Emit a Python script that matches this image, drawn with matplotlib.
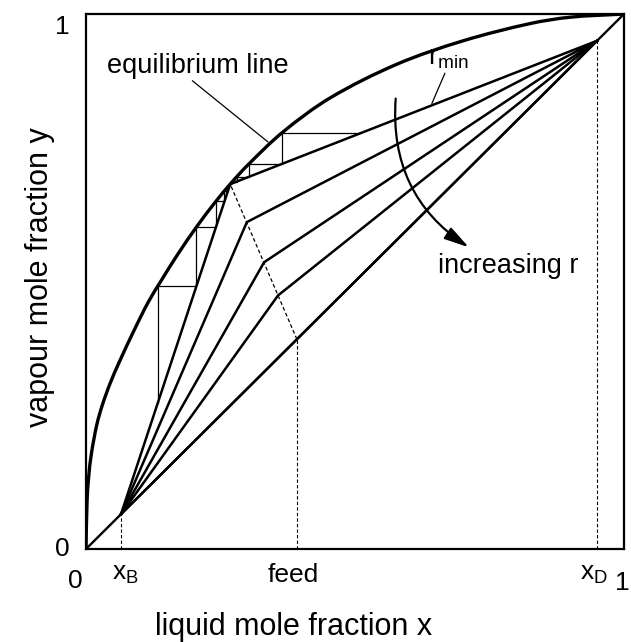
import numpy as np
import matplotlib
matplotlib.use('Agg')
import matplotlib.pyplot as plt
from matplotlib.patches import FancyArrowPatch, PathPatch
from matplotlib.path import Path

plt.rcParams['font.family'] = ['Liberation Sans', 'DejaVu Sans']
plt.rcParams['mathtext.fontset'] = 'custom'
plt.rcParams['mathtext.rm'] = 'Liberation Sans'
plt.rcParams['mathtext.it'] = 'Liberation Sans:italic'

# ---- data ----
eq_x = [0, 0.002, 0.005, 0.01, 0.02, 0.03, 0.045, 0.063, 0.09, 0.116, 0.14, 0.17,
        0.2076, 0.2416, 0.268, 0.30, 0.3655, 0.4535, 0.5775, 0.7013, 0.825, 0.90, 1.0]
eq_y = [0, 0.09, 0.135, 0.178, 0.232, 0.268, 0.31, 0.352, 0.41, 0.462, 0.502, 0.55,
        0.605, 0.65, 0.682, 0.717, 0.779, 0.843, 0.906, 0.950, 0.982, 0.994, 1.0]

x_B = 0.065
x_F = 0.392
x_D = 0.95

# kinks of the operating lines on the feed (q) line, from r_min to total reflux
kink_x = [0.268, 0.299, 0.331, 0.357, 0.392]
kink_y = [0.682, 0.611, 0.536, 0.474, 0.392]

upper_start_y = 0.777   # first step level on the r_min rectifying line
lower_start_x = 0.1333  # first step on the r_min stripping line
n_steps = 12

x_tick_labels = ['0', r'x$_\mathrm{B}$', 'feed', r'x$_\mathrm{D}$', '1']
y_tick_labels = ['0', '1']

# ---- figure ----
fig = plt.figure(figsize=(6.31, 6.42), dpi=100)
ax = fig.add_axes([86 / 631, 1 - 549 / 642, 538 / 631, 535 / 642])
ax.set_xlim(0, 1)
ax.set_ylim(0, 1)
ax.set_xticks([])
ax.set_yticks([])
for s in ax.spines.values():
    s.set_linewidth(1.6)

k = 'black'
# diagonal
ax.plot([0, 1], [0, 1], color=k, lw=1.7)


# equilibrium curve drawn as a smooth Bezier path through the read points
def smooth_path(xs, ys):
    P = np.column_stack([xs, ys]).astype(float)
    n = len(P)
    d = np.sqrt(((P[1:] - P[:-1]) ** 2).sum(axis=1))
    t = np.concatenate([[0], np.cumsum(d)])
    m = np.zeros_like(P)
    m[0] = (P[1] - P[0]) / (t[1] - t[0])
    m[-1] = (P[-1] - P[-2]) / (t[-1] - t[-2])
    for i in range(1, n - 1):
        m[i] = (P[i + 1] - P[i - 1]) / (t[i + 1] - t[i - 1])
    verts = [P[0]]
    codes = [Path.MOVETO]
    for i in range(n - 1):
        h = t[i + 1] - t[i]
        verts += [P[i] + m[i] * h / 3, P[i + 1] - m[i + 1] * h / 3, P[i + 1]]
        codes += [Path.CURVE4] * 3
    return Path(verts, codes)


ax.add_patch(PathPatch(smooth_path(eq_x, eq_y), fill=False, edgecolor=k, lw=2.4,
                       capstyle='round', joinstyle='round'))

# operating lines
for kx, ky in zip(kink_x, kink_y):
    ax.plot([x_B, kx, x_D], [x_B, ky, x_D], color=k, lw=1.8)

# dashed construction lines
dash = (0, (3, 2))
ax.plot([x_B, x_B], [0, x_B], color=k, lw=0.8, ls=dash)
ax.plot([x_F, x_F], [0, x_F], color=k, lw=0.8, ls=dash)
ax.plot([x_F, kink_x[0]], [x_F, kink_y[0]], color=k, lw=0.9, ls=dash)
ax.plot([x_D, x_D], [0, x_D], color=k, lw=0.8, ls=dash)

# McCabe-Thiele steps along r_min
px, py = kink_x[0], kink_y[0]
s_rect = (x_D - py) / (x_D - px)
s_strip = (py - x_B) / (px - x_B)


def eq_inv(y):
    return np.interp(y, eq_y, eq_x)


def eq_f(x):
    return np.interp(x, eq_x, eq_y)


y = upper_start_y
x = x_D - (x_D - y) / s_rect
ux, uy = [x], [y]
for _ in range(n_steps):
    xe = eq_inv(y)
    ux.append(xe); uy.append(y)
    y = x_D - (x_D - xe) * s_rect
    ux.append(xe); uy.append(y)
ax.plot(ux, uy, color=k, lw=0.9)

x = lower_start_x
y = x_B + (x - x_B) * s_strip
lx, ly = [x], [y]
for _ in range(n_steps):
    ye = eq_f(x)
    lx.append(x); ly.append(ye)
    x = x_B + (ye - x_B) / s_strip
    lx.append(x); ly.append(ye)
ax.plot(lx, ly, color=k, lw=0.9)

# leader lines
ax.plot([0.198, 0.338], [0.875, 0.761], color=k, lw=0.9)
ax.plot([0.667, 0.643], [0.889, 0.833], color=k, lw=0.9)

# labels inside
fs_ann = 19.5
ax.text(0.0385, 0.889, 'equilibrium line', fontsize=fs_ann, ha='left', va='baseline')
ax.text(0.636, 0.9065, r'r$_\mathrm{min}$', fontsize=fs_ann, ha='left', va='baseline')
ax.text(0.6548, 0.5153, 'increasing r', fontsize=fs_ann, ha='left', va='baseline')

# curved arrow
arr = FancyArrowPatch((0.576, 0.847), (0.716, 0.561),
                      connectionstyle='arc3,rad=0.3',
                      arrowstyle='-|>,head_length=0.75,head_width=0.2',
                      mutation_scale=20, color=k, lw=1.6)
ax.add_patch(arr)

# tick labels
fs_t = 19
xt_pos = [-0.02, 0.0477, 0.386, 0.918, 0.997]
xt_ha = ['center', 'left', 'center', 'left', 'center']
xt_y = [-0.073, -0.058, -0.061, -0.058, -0.077]
for p, lab, ha, yy in zip(xt_pos, x_tick_labels, xt_ha, xt_y):
    ax.text(p, yy, lab, fontsize=fs_t, ha=ha, va='baseline', clip_on=False)
yt_pos = [-0.0125, 0.963]
for p, lab in zip(yt_pos, y_tick_labels):
    ax.text(-0.0446, p, lab, fontsize=fs_t, ha='center', va='baseline', clip_on=False)

# axis labels
ax.text(-0.0855, 0.508, 'vapour mole fraction y', fontsize=22, rotation=90,
        ha='center', va='center', clip_on=False)
ax.text(0.386, -0.146, 'liquid mole fraction x', fontsize=22,
        ha='center', va='center', clip_on=False)

fig.savefig('out.png', dpi=100)
